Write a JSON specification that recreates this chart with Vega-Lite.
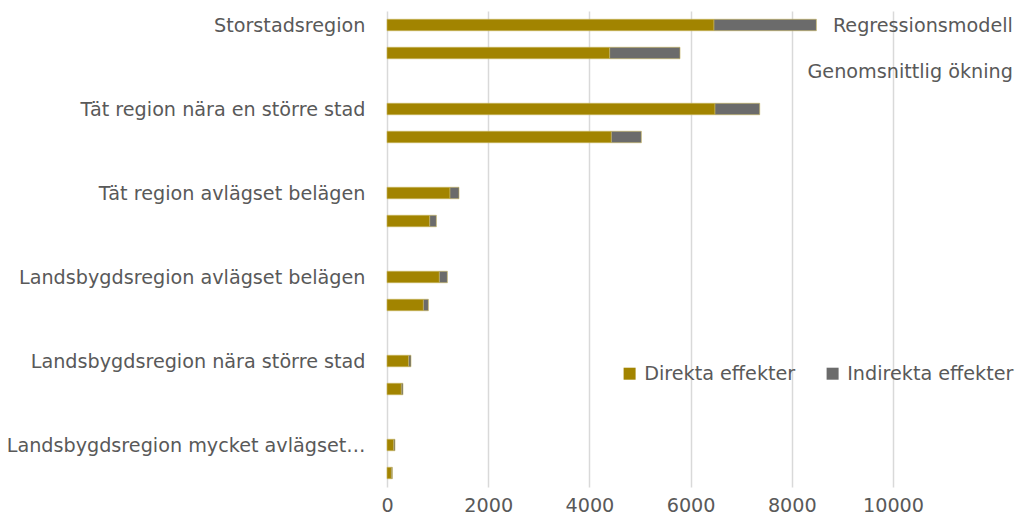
{
  "$schema": "https://vega.github.io/schema/vega-lite/v6.json",
  "width": 506,
  "height": 476,
  "autosize": {"type": "none"},
  "padding": {"left": 387, "top": 11, "right": 124, "bottom": 39},
  "background": "white",
  "config": {
    "view": {"stroke": null},
    "font": "DejaVu Sans",
    "text": {"font": "DejaVu Sans"}
  },
  "datasets": {
    "bars": [
      {"region": "Storstadsregion", "modell": "Regressionsmodell", "effekt": "Direkta effekter", "varde": 6462},
      {"region": "Storstadsregion", "modell": "Regressionsmodell", "effekt": "Indirekta effekter", "varde": 2024},
      {"region": "Storstadsregion", "modell": "Genomsnittlig ökning", "effekt": "Direkta effekter", "varde": 4401},
      {"region": "Storstadsregion", "modell": "Genomsnittlig ökning", "effekt": "Indirekta effekter", "varde": 1390},
      {"region": "Tät region nära en större stad", "modell": "Regressionsmodell", "effekt": "Direkta effekter", "varde": 6482},
      {"region": "Tät region nära en större stad", "modell": "Regressionsmodell", "effekt": "Indirekta effekter", "varde": 884},
      {"region": "Tät region nära en större stad", "modell": "Genomsnittlig ökning", "effekt": "Direkta effekter", "varde": 4434},
      {"region": "Tät region nära en större stad", "modell": "Genomsnittlig ökning", "effekt": "Indirekta effekter", "varde": 593},
      {"region": "Tät region avlägset belägen", "modell": "Regressionsmodell", "effekt": "Direkta effekter", "varde": 1245},
      {"region": "Tät region avlägset belägen", "modell": "Regressionsmodell", "effekt": "Indirekta effekter", "varde": 178},
      {"region": "Tät region avlägset belägen", "modell": "Genomsnittlig ökning", "effekt": "Direkta effekter", "varde": 844},
      {"region": "Tät region avlägset belägen", "modell": "Genomsnittlig ökning", "effekt": "Indirekta effekter", "varde": 132},
      {"region": "Landsbygdsregion avlägset belägen", "modell": "Regressionsmodell", "effekt": "Direkta effekter", "varde": 1035},
      {"region": "Landsbygdsregion avlägset belägen", "modell": "Regressionsmodell", "effekt": "Indirekta effekter", "varde": 158},
      {"region": "Landsbygdsregion avlägset belägen", "modell": "Genomsnittlig ökning", "effekt": "Direkta effekter", "varde": 719},
      {"region": "Landsbygdsregion avlägset belägen", "modell": "Genomsnittlig ökning", "effekt": "Indirekta effekter", "varde": 99},
      {"region": "Landsbygdsregion nära större stad", "modell": "Regressionsmodell", "effekt": "Direkta effekter", "varde": 429},
      {"region": "Landsbygdsregion nära större stad", "modell": "Regressionsmodell", "effekt": "Indirekta effekter", "varde": 45},
      {"region": "Landsbygdsregion nära större stad", "modell": "Genomsnittlig ökning", "effekt": "Direkta effekter", "varde": 284},
      {"region": "Landsbygdsregion nära större stad", "modell": "Genomsnittlig ökning", "effekt": "Indirekta effekter", "varde": 32},
      {"region": "Landsbygdsregion mycket avlägset…", "modell": "Regressionsmodell", "effekt": "Direkta effekter", "varde": 132},
      {"region": "Landsbygdsregion mycket avlägset…", "modell": "Regressionsmodell", "effekt": "Indirekta effekter", "varde": 26},
      {"region": "Landsbygdsregion mycket avlägset…", "modell": "Genomsnittlig ökning", "effekt": "Direkta effekter", "varde": 87},
      {"region": "Landsbygdsregion mycket avlägset…", "modell": "Genomsnittlig ökning", "effekt": "Indirekta effekter", "varde": 20}
    ],
    "etiketter": [
      {"region": "Storstadsregion", "modell": "Regressionsmodell", "text": "Regressionsmodell"},
      {"region": "Storstadsregion", "modell": "Genomsnittlig ökning", "text": "Genomsnittlig ökning"}
    ]
  },
  "layer": [
    {
      "data": {"name": "bars"},
      "mark": {"type": "bar", "stroke": "#c9b760", "strokeWidth": 0.6},
      "encoding": {
        "y": {
          "field": "region",
          "type": "nominal",
          "scale": {
            "domain": ["Storstadsregion", "Tät region nära en större stad", "Tät region avlägset belägen", "Landsbygdsregion avlägset belägen", "Landsbygdsregion nära större stad", "Landsbygdsregion mycket avlägset…"],
            "paddingInner": 0.3333,
            "paddingOuter": 0
          },
          "axis": {
            "title": null,
            "domain": false,
            "ticks": false,
            "grid": false,
            "labelFontSize": 19.2,
            "labelColor": "#595959",
            "labelPadding": 22,
            "labelOffset": -13,
            "labelLimit": 400,
            "labelFont": "DejaVu Sans"
          }
        },
        "yOffset": {
          "field": "modell",
          "type": "nominal",
          "scale": {"domain": ["Regressionsmodell", "Genomsnittlig ökning"], "paddingInner": 0.59, "paddingOuter": 0.295}
        },
        "x": {
          "field": "varde",
          "type": "quantitative",
          "stack": "zero",
          "scale": {"domain": [0, 10000], "nice": false},
          "axis": {
            "title": null,
            "values": [0, 2000, 4000, 6000, 8000, 10000],
            "format": "d",
            "domain": false,
            "ticks": false,
            "grid": true,
            "gridColor": "#d9d9d9",
            "gridWidth": 1.5,
            "labelFontSize": 19.2,
            "labelColor": "#595959",
            "labelPadding": 9,
            "labelFont": "DejaVu Sans",
            "labelFlush": false
          }
        },
        "color": {
          "field": "effekt",
          "type": "nominal",
          "scale": {"domain": ["Direkta effekter", "Indirekta effekter"], "range": ["#a28400", "#6b6b6b"]},
          "legend": {
            "title": null,
            "orient": "none",
            "legendX": 233,
            "legendY": 353,
            "direction": "horizontal",
            "symbolType": "square",
            "symbolSize": 144,
            "symbolStrokeWidth": 0,
            "labelFontSize": 19.2,
            "labelColor": "#595959",
            "labelFont": "DejaVu Sans",
            "labelOffset": 5,
            "columnPadding": 27,
            "labelLimit": 300
          }
        },
        "order": {"field": "effekt", "sort": "ascending"}
      }
    },
    {
      "data": {"name": "etiketter"},
      "transform": [{"filter": "datum.modell === 'Regressionsmodell'"}],
      "mark": {"type": "text", "align": "right", "baseline": "middle", "fontSize": 19.2, "color": "#595959", "dy": 1, "font": "DejaVu Sans"},
      "encoding": {
        "y": {"field": "region", "type": "nominal"},
        "yOffset": {"field": "modell", "type": "nominal"},
        "x": {"datum": 12370},
        "text": {"field": "text"}
      }
    },
    {
      "data": {"name": "etiketter"},
      "transform": [{"filter": "datum.modell === 'Genomsnittlig ökning'"}],
      "mark": {"type": "text", "align": "right", "baseline": "middle", "fontSize": 19.2, "color": "#595959", "dy": 19, "font": "DejaVu Sans"},
      "encoding": {
        "y": {"field": "region", "type": "nominal"},
        "yOffset": {"field": "modell", "type": "nominal"},
        "x": {"datum": 12370},
        "text": {"field": "text"}
      }
    }
  ]
}
